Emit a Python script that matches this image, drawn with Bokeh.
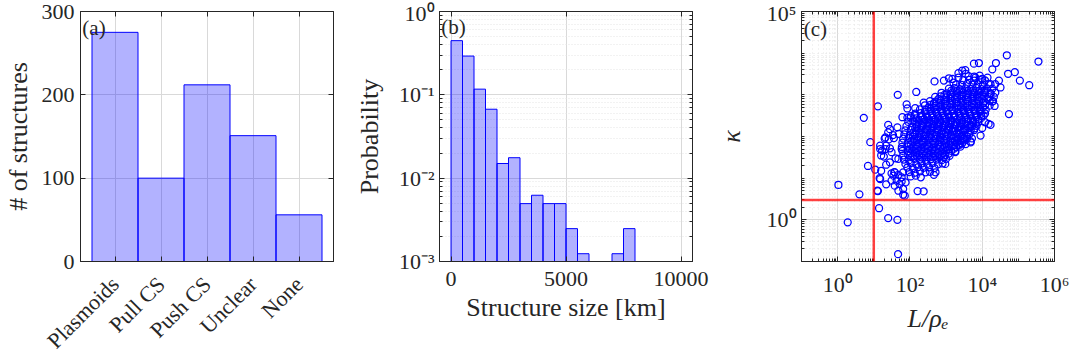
import math
from bokeh.plotting import figure
from bokeh.models import (FactorRange, Range1d, FixedTicker, LinearAxis, LogAxis,
                          CategoricalAxis, Label, Span, ColumnDataSource)
from bokeh.layouts import row
from bokeh.embed import file_html
from bokeh.resources import INLINE

# ---------------- data ----------------
categories = ["Plasmoids", "Pull CS", "Push CS", "Unclear", "None"]
structure_counts = [275, 100, 212, 151, 56]
count_ticks = [0, 100, 200, 300]

size_bin_edges_km = [0, 500, 1000, 1500, 2000, 2500, 3000, 3500, 4000,
                     4500, 5000, 5500, 6000, 6500, 7000, 7500, 8000]
size_probability = [0.447, 0.292, 0.117, 0.0672, 0.0150, 0.0176, 0.00495, 0.00624,
                    0.00495, 0.00495, 0.00248, 0.00124, 0.0, 0.0, 0.00124, 0.00248]
size_ticks = [0, 5000, 10000]
prob_ticks = [1e-3, 1e-2, 1e-1, 1e0]
prob_tick_labels = ["10\u207b\u00b3", "10\u207b\u00b2", "10\u207b\u00b9", "10\u2070"]

L_ticks = [1e0, 1e2, 1e4, 1e6]
L_tick_labels = ["10\u2070", "10\u00b2", "10\u2074", "10\u2076"]
kappa_ticks = [1e0, 1e5]
kappa_tick_labels = ["10\u2070", "10\u2075"]
L_threshold = 10
kappa_threshold = 3

L_over_rho_e = [
    # dense core
    1.05e2, 1.45e2, 2.0e2,
    9.5e1, 1.35e2, 1.9e2, 2.7e2, 3.6e2,
    8.5e1, 1.2e2, 1.7e2, 2.4e2, 3.4e2, 4.8e2,
    7.5e1, 1.05e2, 1.5e2, 2.1e2, 3e2, 4.2e2, 6e2, 8e2,
    6.8e1, 9.5e1, 1.35e2, 1.9e2, 2.7e2, 3.8e2, 5.4e2, 7.6e2, 1.0e3,
    6.5e1, 9e1, 1.25e2, 1.8e2, 2.5e2, 3.5e2, 5e2, 7e2, 9.5e2, 1.25e3,
    6.2e1, 8.8e1, 1.25e2, 1.75e2, 2.5e2, 3.5e2, 4.9e2, 7e2, 1e3, 1.4e3, 1.8e3,
    6e1, 8.5e1, 1.2e2, 1.7e2, 2.4e2, 3.4e2, 4.8e2, 6.8e2, 9.6e2, 1.35e3, 1.9e3, 2.5e3,
    6.2e1, 8.8e1, 1.25e2, 1.75e2, 2.5e2, 3.5e2, 5e2, 7e2, 1e3, 1.4e3, 2e3, 2.8e3,
    6.5e1, 9.2e1, 1.3e2, 1.85e2, 2.6e2, 3.7e2, 5.2e2, 7.4e2, 1.05e3, 1.5e3, 2.1e3, 3e3, 3.8e3,
    7e1, 1e2, 1.4e2, 2e2, 2.8e2, 4e2, 5.6e2, 8e2, 1.15e3, 1.6e3, 2.3e3, 3.2e3, 4.4e3,
    7.5e1, 1.05e2, 1.5e2, 2.1e2, 3e2, 4.2e2, 6e2, 8.5e2, 1.2e3, 1.7e3, 2.4e3, 3.4e3, 4.8e3, 6e3,
    8e1, 1.15e2, 1.6e2, 2.3e2, 3.2e2, 4.6e2, 6.5e2, 9.2e2, 1.3e3, 1.85e3, 2.6e3, 3.7e3, 5.2e3, 7e3,
    9e1, 1.25e2, 1.75e2, 2.5e2, 3.5e2, 5e2, 7e2, 1e3, 1.4e3, 2e3, 2.8e3, 4e3, 5.6e3, 7.8e3,
    1.05e2, 1.5e2, 2.1e2, 3e2, 4.2e2, 6e2, 8.5e2, 1.2e3, 1.7e3, 2.4e3, 3.4e3, 4.8e3, 6.8e3, 9.5e3,
    1.4e2, 2e2, 2.8e2, 4e2, 5.6e2, 8e2, 1.15e3, 1.6e3, 2.3e3, 3.2e3, 4.6e3, 6.5e3, 9.2e3, 1.2e4,
    1.9e2, 2.7e2, 3.8e2, 5.4e2, 7.6e2, 1.1e3, 1.5e3, 2.2e3, 3.1e3, 4.4e3, 6.2e3, 8.8e3, 1.25e4,
    2.6e2, 3.7e2, 5.2e2, 7.4e2, 1.05e3, 1.5e3, 2.1e3, 3e3, 4.2e3, 6e3, 8.5e3, 1.2e4, 1.6e4,
    3.6e2, 5.1e2, 7.2e2, 1e3, 1.45e3, 2e3, 2.9e3, 4.1e3, 5.8e3, 8.2e3, 1.15e4, 1.6e4, 2e4,
    5e2, 7e2, 1e3, 1.4e3, 2e3, 2.8e3, 4e3, 5.6e3, 8e3, 1.1e4, 1.55e4, 2.1e4,
    7.5e2, 1.05e3, 1.5e3, 2.1e3, 3e3, 4.2e3, 6e3, 8.5e3, 1.2e4, 1.7e4, 2.3e4,
    1.2e3, 1.7e3, 2.4e3, 3.4e3, 4.8e3, 6.8e3, 9.6e3, 1.35e4, 1.9e4,
    1.9e3, 2.7e3, 3.8e3, 5.4e3, 7.6e3, 1.05e4, 1.5e4,
    3e3, 4.3e3, 6e3, 8.5e3, 1.2e4,
    4.2e3, 6e3, 8.5e3,
    # dense core, in-between rows
    1.1e2, 1.55e2, 2.2e2, 3.1e2, 4.4e2, 6.2e2, 8.8e2,
    1.05e2, 1.5e2, 2.1e2, 3e2, 4.2e2, 6e2, 8.5e2, 1.2e3,
    1.0e2, 1.45e2, 2.05e2, 2.9e2, 4.1e2, 5.8e2, 8.2e2, 1.15e3, 1.65e3,
    1.05e2, 1.5e2, 2.1e2, 3e2, 4.2e2, 6e2, 8.5e2, 1.2e3, 1.7e3, 2.4e3,
    1.1e2, 1.55e2, 2.2e2, 3.1e2, 4.4e2, 6.2e2, 8.8e2, 1.25e3, 1.75e3, 2.5e3, 3.3e3,
    1.2e2, 1.7e2, 2.4e2, 3.4e2, 4.8e2, 6.8e2, 9.6e2, 1.35e3, 1.9e3, 2.7e3, 3.8e3,
    1.25e2, 1.8e2, 2.5e2, 3.6e2, 5e2, 7.2e2, 1e3, 1.45e3, 2e3, 2.9e3, 4e3,
    1.4e2, 1.95e2, 2.75e2, 3.9e2, 5.5e2, 7.8e2, 1.1e3, 1.55e3, 2.2e3, 3.1e3, 4.4e3, 6.2e3,
    1.5e2, 2.1e2, 3e2, 4.2e2, 6e2, 8.5e2, 1.2e3, 1.7e3, 2.4e3, 3.4e3, 4.8e3, 6.6e3,
    1.75e2, 2.5e2, 3.5e2, 5e2, 7e2, 1e3, 1.4e3, 2e3, 2.8e3, 4e3, 5.6e3, 7.8e3,
    2.1e2, 3e2, 4.2e2, 6e2, 8.5e2, 1.2e3, 1.7e3, 2.4e3, 3.4e3, 4.8e3, 6.8e3, 9.5e3,
    2.6e2, 3.7e2, 5.2e2, 7.4e2, 1.05e3, 1.5e3, 2.1e3, 3e3, 4.2e3, 6e3, 8.5e3,
    3.3e2, 4.6e2, 6.5e2, 9.2e2, 1.3e3, 1.85e3, 2.6e3, 3.7e3, 5.2e3, 7.4e3, 1.05e4,
    4.6e2, 6.5e2, 9.2e2, 1.3e3, 1.85e3, 2.6e3, 3.7e3, 5.2e3, 7.4e3, 1.05e4,
    6.2e2, 8.8e2, 1.25e3, 1.75e3, 2.5e3, 3.5e3, 5e3, 7e3, 1e4,
    9e2, 1.3e3, 1.8e3, 2.5e3, 3.6e3, 5e3, 7.2e3, 1e4,
    1.4e3, 2e3, 2.8e3, 4e3, 5.6e3, 8e3, 1.15e4,
    # sparser points and outliers
    1.05, 1.9, 4.0, 5.3, 6.9, 8.0, 13, 14,
    12.6, 11, 14.5, 16, 25, 45, 47, 46,
    150, 81, 163, 240, 65, 72, 22, 15,
    25, 480, 4.8e4, 3.6e5, 2.0e5, 1.1e5, 8.0e4, 5.2e4,
    2.4e4, 1.9e4, 8.1e3, 5.9e3, 3.4e3, 5.5e4, 2.2e4, 1.7e4,
    9e3, 1.0e4, 870, 1200, 140, 240, 62, 85,
    105, 136, 28, 25, 21, 26, 36, 45,
    49, 21, 17, 1.2e4, 1.5e4, 4.8e3, 3.1e3, 2.2e3,
    1.7e4, 2.3e4, 3.2e4, 2.9e4, 1.2e4, 1.7e4, 1.4e4, 1.9e4,
    8.9e3, 1.1e4, 1.5e3, 2.2e3, 3.5e3, 2.8e3, 6.5e3, 1e4,
    1.4e4, 15, 13, 35, 48, 59, 43, 38,
    52, 65, 48, 59, 31, 65, 38, 16,
    15, 22, 31, 28, 48, 59, 510, 460,
    950, 1.8e3, 3.5e3, 4.8e3, 76, 1.6e3, 2.2e3, 85,
    20, 28, 34, 40, 19, 22, 31, 37,
    5.2e3,
]
kappa = [
    11, 11.5, 10.5,
    14, 13.5, 14.5, 13.8, 14.2,
    18, 17.5, 18.5, 17.8, 18.2, 17.5,
    22, 23, 21.5, 22.5, 22, 23, 21.5, 22.5,
    28, 27, 29, 28, 27.5, 28.5, 28, 27, 29,
    35, 36, 34, 35.5, 35, 36, 34, 35, 36, 34.5,
    45, 44, 46, 45, 44, 46, 45, 44, 46, 45, 44,
    56, 58, 55, 57, 56, 58, 55, 57, 56, 58, 55, 57,
    71, 69, 73, 70, 72, 71, 69, 73, 70, 72, 71, 69,
    89, 92, 87, 90, 88, 91, 89, 92, 87, 90, 88, 91, 89,
    112, 108, 115, 110, 113, 111, 109, 114, 112, 108, 115, 110, 113,
    141, 145, 138, 143, 140, 146, 139, 142, 144, 137, 141, 145, 138, 143,
    178, 172, 183, 175, 180, 174, 182, 177, 171, 184, 176, 179, 173, 181,
    224, 230, 218, 227, 221, 232, 219, 226, 229, 217, 225, 231, 220, 228,
    282, 274, 290, 278, 286, 272, 288, 280, 292, 276, 284, 270, 287, 279,
    355, 365, 345, 360, 350, 368, 342, 358, 352, 366, 347, 361, 349, 357,
    447, 435, 460, 440, 455, 430, 450, 462, 438, 452, 444, 458, 436,
    562, 578, 548, 570, 555, 580, 545, 566, 552, 575, 558, 568, 550,
    708, 690, 725, 700, 715, 685, 720, 695, 712, 730, 698, 718, 704,
    891, 915, 870, 905, 880, 920, 865, 900, 885, 910, 875, 895,
    1120, 1090, 1150, 1100, 1140, 1080, 1130, 1110, 1160, 1095, 1125,
    1410, 1450, 1370, 1430, 1390, 1460, 1380, 1420, 1400,
    1780, 1730, 1830, 1750, 1810, 1760, 1800,
    2240, 2300, 2180, 2270, 2210,
    2820, 2750, 2900,
    # in-between rows
    32, 33, 31, 32.5, 31.5, 33, 32,
    40, 41, 39, 40.5, 39.5, 41, 40, 39,
    50, 51.5, 49, 50.5, 49.5, 51, 50, 48.5, 51,
    63, 61, 65, 62, 64, 63, 61.5, 64.5, 62.5, 63.5,
    79, 81, 77, 80, 78, 82, 79, 77.5, 80.5, 78.5, 81,
    100, 97, 103, 99, 102, 98, 101, 104, 96, 100, 102,
    126, 122, 130, 124, 128, 121, 127, 131, 123, 129, 125,
    158, 163, 153, 160, 155, 165, 152, 159, 162, 154, 161, 157,
    200, 194, 207, 197, 204, 191, 202, 196, 208, 199, 193, 205,
    251, 259, 243, 255, 247, 262, 245, 253, 249, 258, 244, 256,
    316, 306, 326, 311, 321, 304, 318, 309, 324, 313, 320, 308,
    398, 410, 386, 404, 392, 412, 389, 401, 395, 407, 390,
    501, 486, 516, 493, 509, 483, 505, 497, 514, 490, 503,
    631, 650, 612, 640, 622, 655, 618, 636, 626, 645,
    794, 770, 818, 782, 806, 775, 812, 788, 800,
    1000, 1030, 970, 1015, 985, 1040, 975, 1010,
    1260, 1220, 1300, 1240, 1280, 1230, 1270,
    # sparser points and outliers
    6.9, 0.87, 4.1, 280, 19.6, 73, 530, 1.9,
    5.0, 16, 10, 15, 1.1, 1.0, 0.15, 1000,
    1170, 590, 4.9, 4.8, 4.0, 3.8, 7.1, 60,
    190, 2100, 8.9e3, 6.3e3, 1.7e3, 2.2e3, 3.5e3, 3.2e3,
    5.8e3, 4.1e3, 5.8e3, 5.6e3, 3.9e3, 345, 540, 190,
    105, 160, 2200, 2500, 480, 650, 290, 285,
    310, 320, 150, 126, 95, 85, 91, 166,
    115, 50, 46, 220, 200, 76, 87, 63,
    1.8e3, 1.8e3, 1.5e3, 2.2e3, 1.1e3, 1.05e3, 800, 690,
    420, 320, 2.4e3, 2.6e3, 3.2e3, 3.8e3, 2.6e3, 2.4e3,
    2.6e3, 9.5, 4.9, 11.5, 12, 10.5, 8.7, 6.6,
    7.2, 5.5, 5.0, 8.3, 8.7, 13.8, 13.8, 35,
    50, 60, 42, 24, 29, 50, 13.8, 12,
    22, 42, 66, 72, 7.9, 1.95e3, 3.3e3, 470,
    89, 52, 108, 30, 33, 21, 13, 14,
    90,
]

# ---------------- style ----------------
FONT = "Liberation Serif"
INK = "#262626"
GRID_MAJOR = "#d9d9d9"
GRID_MINOR = "#e4e4e4"
BLUE = "#0000ff"


def style_axis(ax):
    ax.axis_line_color = INK
    ax.axis_line_width = 1
    ax.major_tick_line_color = INK
    ax.minor_tick_line_color = INK
    ax.major_tick_in = 5
    ax.major_tick_out = 0
    ax.minor_tick_in = 3
    ax.minor_tick_out = 0
    ax.major_label_text_font = FONT
    ax.major_label_text_font_size = "22px"
    ax.major_label_text_color = INK
    ax.axis_label_text_font = FONT
    ax.axis_label_text_font_size = "26px"
    ax.axis_label_text_font_style = "normal"
    ax.axis_label_text_color = INK


def mirror(ax):
    style_axis(ax)
    ax.major_label_text_font_size = "0px"
    ax.major_label_text_color = None
    ax.major_label_standoff = 0
    return ax


def make_fig(left, right, **kw):
    p = figure(frame_width=253, frame_height=250, min_border_left=left,
               min_border_right=right, min_border_top=11, min_border_bottom=0,
               title=None, output_backend="svg", toolbar_location=None, **kw)
    p.outline_line_color = INK
    p.outline_line_width = 1
    p.background_fill_color = "white"
    p.border_fill_color = "white"
    return p


def panel_label(p, x, y, text):
    p.add_layout(Label(x=x, y=y, text=text, text_font=FONT, text_font_size="21px",
                       text_baseline="top", text_align="left", text_color=INK))


# ---------------- (a) ----------------
pa = make_fig(76, 18,
              x_range=FactorRange(factors=categories, range_padding=0.25,
                                  range_padding_units="absolute"),
              y_range=Range1d(0, 300))
pa.vbar(x=categories, top=structure_counts, width=1.0, fill_color=BLUE, fill_alpha=0.3,
        line_color=BLUE, line_width=1)
ax = pa.below[0]
style_axis(ax)
ax.major_label_orientation = math.pi / 4
ax.major_label_standoff = 19
ay = pa.left[0]
style_axis(ay)
count_ticker = FixedTicker(ticks=count_ticks)
ay.ticker = count_ticker
pa.ygrid.ticker = count_ticker
ay.axis_label = "# of structures"
ay.major_label_standoff = 6
ay.axis_label_standoff = 6
pa.add_layout(mirror(CategoricalAxis()), "above")
pa.add_layout(mirror(LinearAxis(ticker=count_ticker)), "right")
pa.xgrid.grid_line_color = GRID_MAJOR
pa.ygrid.grid_line_color = GRID_MAJOR
panel_label(pa, -0.21, 294.5, "(a)")

# ---------------- (b) ----------------
pb = make_fig(85, 21, x_range=Range1d(-500, 10500), y_range=Range1d(1e-3, 1),
              y_axis_type="log")
nz = [i for i, v in enumerate(size_probability) if v > 0]
src_b = ColumnDataSource(dict(
    left=[size_bin_edges_km[i] for i in nz],
    right=[size_bin_edges_km[i + 1] for i in nz],
    top=[size_probability[i] for i in nz],
))
pb.quad(left="left", right="right", top="top", bottom=1e-3, source=src_b,
        fill_color=BLUE, fill_alpha=0.3, line_color=BLUE, line_width=1)
bx_ticker = FixedTicker(ticks=size_ticks)
prob_minor = [m * 10.0 ** e for e in (-3, -2, -1) for m in range(2, 10)]
by_ticker = FixedTicker(ticks=prob_ticks, minor_ticks=prob_minor)
bx = pb.below[0]
style_axis(bx)
bx.ticker = bx_ticker
pb.xgrid.ticker = bx_ticker
bx.axis_label = "Structure size [km]"
bx.major_label_standoff = 10
bx.axis_label_standoff = 4
by = pb.left[0]
style_axis(by)
by.ticker = by_ticker
pb.ygrid.ticker = by_ticker
by.major_label_overrides = dict(zip(prob_ticks, prob_tick_labels))
by.axis_label = "Probability"
by.major_label_standoff = 5
by.axis_label_standoff = 12
pb.add_layout(mirror(LinearAxis(ticker=bx_ticker)), "above")
pb.add_layout(mirror(LogAxis(ticker=by_ticker)), "right")
pb.xgrid.grid_line_color = GRID_MAJOR
pb.ygrid.grid_line_color = GRID_MAJOR
pb.ygrid.minor_grid_line_color = GRID_MINOR
pb.ygrid.minor_grid_line_dash = "1 2"
panel_label(pb, -420, 0.9, "(b)")

# ---------------- (c) ----------------
pc = make_fig(82, 16, x_range=Range1d(1e-1, 1e6), y_range=Range1d(1e-1, 1e5),
              x_axis_type="log", y_axis_type="log")
pc.scatter(x=L_over_rho_e, y=kappa, marker="circle", size=7, fill_color=None,
           line_color=BLUE, line_width=1.25)
L_minor = [m * 10.0 ** e for e in range(-1, 6) for m in range(1, 10)
           if m * 10.0 ** e not in L_ticks]
k_minor = [m * 10.0 ** e for e in range(-1, 5) for m in range(1, 10)
           if m * 10.0 ** e not in kappa_ticks]
cx_ticker = FixedTicker(ticks=L_ticks, minor_ticks=L_minor)
cy_ticker = FixedTicker(ticks=kappa_ticks, minor_ticks=k_minor)
cx = pc.below[0]
style_axis(cx)
cx.ticker = cx_ticker
pc.xgrid.ticker = cx_ticker
cx.major_label_overrides = dict(zip(L_ticks, L_tick_labels))
cx.axis_label = "L/\u03c1\u2091"
cx.axis_label_text_font_style = "italic"
cx.major_label_standoff = 10
cx.axis_label_standoff = 4
cy = pc.left[0]
style_axis(cy)
cy.ticker = cy_ticker
pc.ygrid.ticker = cy_ticker
cy.major_label_overrides = dict(zip(kappa_ticks, kappa_tick_labels))
cy.axis_label = "\u03ba"
cy.axis_label_text_font_style = "italic"
cy.major_label_standoff = 5
cy.axis_label_standoff = 18
pc.add_layout(mirror(LogAxis(ticker=cx_ticker)), "above")
pc.add_layout(mirror(LogAxis(ticker=cy_ticker)), "right")
pc.xgrid.grid_line_color = GRID_MAJOR
pc.ygrid.grid_line_color = GRID_MAJOR
pc.xgrid.minor_grid_line_color = GRID_MINOR
pc.ygrid.minor_grid_line_color = GRID_MINOR
pc.xgrid.minor_grid_line_dash = "1 3"
pc.ygrid.minor_grid_line_dash = "1 3"
pc.add_layout(Span(location=L_threshold, dimension="height", line_color="#ff0000",
                   line_alpha=0.75, line_width=2.5))
pc.add_layout(Span(location=kappa_threshold, dimension="width", line_color="#ff0000",
                   line_alpha=0.75, line_width=2.5))
panel_label(pc, 0.115, 7.5e4, "(c)")

layout = row(pa, pb, pc)
open("out.html", "w").write(file_html(layout, INLINE))
